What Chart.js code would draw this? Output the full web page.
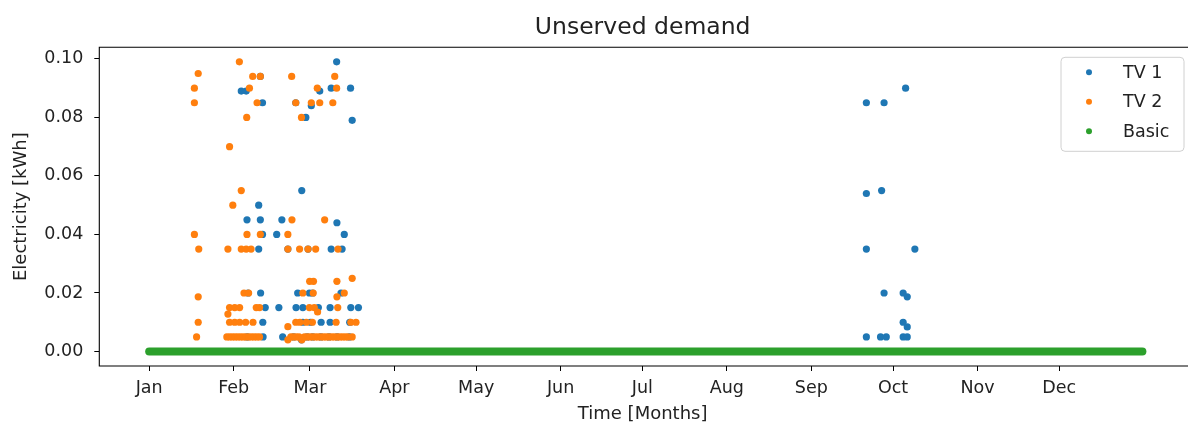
<!DOCTYPE html>
<html>
<head>
<meta charset="utf-8">
<title>Unserved demand</title>
<script src="https://cdn.jsdelivr.net/npm/chart.js@4.4.1/dist/chart.umd.min.js"></script>
<style>
  html, body { margin: 0; padding: 0; background: #fff; overflow: hidden; }
  canvas { display: block; }
</style>
</head>
<body>
<canvas id="chart" width="1190" height="428"></canvas>
<script>
// x values are days since 1 Jan (00:00), y values are kWh
const monthStarts = [0, 31, 59, 90, 120, 151, 181, 212, 243, 273, 304, 334];
const monthLabels = ['Jan', 'Feb', 'Mar', 'Apr', 'May', 'Jun', 'Jul', 'Aug', 'Sep', 'Oct', 'Nov', 'Dec'];
const yTicks = [0, 0.02, 0.04, 0.06, 0.08, 0.10];

// TV 1: one entry per demand level, with the days it shows up
const tv1Levels = [0.099, 0.094, 0.090, 0.089, 0.085, 0.084, 0.080, 0.079, 0.055, 0.054, 0.050,
  0.045, 0.044, 0.040, 0.035, 0.020, 0.0187, 0.015, 0.010, 0.0084, 0.005, 0.004];
const tv1Days = [
  [68.8],
  [40.8],
  [66.8, 73.9, 277.6],
  [33.8, 35.6, 62.6],
  [41.6, 53.8, 263.2, 269.7],
  [59.5],
  [57.5],
  [74.5],
  [56.0, 268.8],
  [263.2],
  [40.2],
  [35.9, 40.8, 48.7],
  [68.9],
  [41.6, 46.8, 71.6],
  [40.2, 50.9, 58.3, 66.8, 70.8, 263.2, 281.0],
  [36.3, 40.9, 54.5, 58.8, 60.0, 70.4, 269.7, 276.7],
  [278.2],
  [42.6, 47.6, 53.9, 56.4, 62.1, 66.4, 74.0, 76.8],
  [41.7, 56.4, 59.2, 63.1, 66.4, 73.6, 276.7],
  [278.2],
  [36.0, 41.8, 49.0, 53.0, 58.0, 60.0, 63.0, 66.0, 69.0, 73.5, 263.2, 268.4, 270.5, 276.7, 278.2],
  [55.9]
];

// TV 2
const tv2Levels = [0.099, 0.095, 0.094, 0.090, 0.085, 0.080, 0.070, 0.055, 0.050, 0.045, 0.040,
  0.035, 0.025, 0.024, 0.020, 0.0187, 0.015, 0.0135, 0.0128, 0.010, 0.0085, 0.005, 0.004];
const tv2Days = [
  [33.1],
  [18.0],
  [38.0, 40.8, 52.3, 68.1],
  [16.6, 36.8, 61.7, 68.8],
  [16.6, 39.6, 53.8, 59.5, 62.6, 67.4],
  [35.8, 55.9],
  [29.5],
  [33.8],
  [30.7],
  [52.4, 64.4],
  [16.6, 35.9, 40.8, 50.9],
  [18.2, 28.9, 33.8, 35.6, 37.4, 50.9, 55.2, 58.3, 61.1, 69.3],
  [74.5],
  [58.9, 60.3, 68.9],
  [34.8, 36.5, 56.4, 60.2, 71.6],
  [18.0, 68.9],
  [29.5, 31.4, 33.2, 39.3, 40.5, 58.8, 60.6, 69.2],
  [61.8],
  [28.9],
  [18.0, 29.5, 31.4, 33.2, 35.4, 38.1, 53.8, 55.3, 57.7, 59.9, 68.6, 74.0, 75.9],
  [50.9],
  [17.4, 28.5, 29.5, 30.5, 31.5, 32.5, 33.5, 34.5, 35.5, 36.5, 37.5, 38.5, 39.5, 40.5,
   52, 53, 54, 55, 57, 58, 59, 60, 61, 62, 63, 64, 65, 66, 67, 68, 69, 70, 71, 72, 73, 74.5],
  [50.9, 56.0]
];

// Basic never misses demand: flat at 0 for the whole year
const basicDays = [0, 364.5];
const basicKwh = [0, 0];

const COLORS = { tv1: '#1f77b4', tv2: '#ff7f0e', basic: '#2ca02c' };
const FONT = 'DejaVu Sans';
const TEXT = '#222222';

function toPoints(levels, daysByLevel) {
    return levels.flatMap((level, i) => daysByLevel[i].map(day => ({ x: day, y: level })));
}

// Axes frame; the right spine sits just past the edge of the picture
const framePlugin = {
    id: 'frame',
    afterDatasetsDraw(chart) {
        const { ctx, chartArea: a } = chart;
        ctx.save();
        ctx.strokeStyle = '#000';
        ctx.lineWidth = 1.1;
        ctx.beginPath();
        ctx.moveTo(a.right + 2, a.top);
        ctx.lineTo(a.left, a.top);
        ctx.lineTo(a.left, a.bottom);
        ctx.lineTo(a.right + 2, a.bottom);
        ctx.stroke();
        ctx.restore();
    }
};

// Matplotlib-like legend in the upper right corner of the axes
const boxLegendPlugin = {
    id: 'boxLegend',
    afterDraw(chart) {
        const { ctx, chartArea: a } = chart;
        const w = 123, h = 94;
        const left = a.right - 6 - w + 4;
        const top = a.top + 10;
        ctx.save();
        ctx.beginPath();
        ctx.roundRect(left, top, w, h, 4);
        ctx.fillStyle = 'rgba(255,255,255,0.8)';
        ctx.fill();
        ctx.strokeStyle = '#d0d0d0';
        ctx.lineWidth = 1;
        ctx.stroke();
        ctx.font = `17.5px "${FONT}"`;
        ctx.textBaseline = 'middle';
        ctx.textAlign = 'left';
        chart.data.datasets.forEach((ds, i) => {
            const y = top + 15 + i * 29.5;
            ctx.beginPath();
            ctx.arc(left + 28, y, 3, 0, Math.PI * 2);
            ctx.fillStyle = ds.legendColor;
            ctx.fill();
            ctx.fillStyle = TEXT;
            ctx.fillText(ds.label, left + 62, y + 1);
        });
        ctx.restore();
    }
};

const ctx = document.getElementById('chart').getContext('2d');
new Chart(ctx, {
    type: 'scatter',
    data: {
        datasets: [
            {
                label: 'TV 1',
                data: toPoints(tv1Levels, tv1Days),
                backgroundColor: COLORS.tv1,
                legendColor: COLORS.tv1,
                pointRadius: 3.6,
                pointBorderWidth: 0,
                order: 3
            },
            {
                label: 'TV 2',
                data: toPoints(tv2Levels, tv2Days),
                backgroundColor: COLORS.tv2,
                legendColor: COLORS.tv2,
                pointRadius: 3.6,
                pointBorderWidth: 0,
                order: 2
            },
            {
                label: 'Basic',
                data: basicDays.map((d, i) => ({ x: d, y: basicKwh[i] })),
                showLine: true,
                borderColor: COLORS.basic,
                borderWidth: 8,
                borderCapStyle: 'round',
                legendColor: COLORS.basic,
                pointRadius: 0,
                order: 1
            }
        ]
    },
    options: {
        responsive: false,
        animation: false,
        layout: { padding: 0 },
        plugins: {
            legend: { display: false },
            tooltip: { enabled: false },
            title: {
                display: true,
                fullSize: false,
                text: 'Unserved demand',
                color: TEXT,
                font: { family: FONT, size: 23.5, weight: 'normal' },
                padding: { top: 14, bottom: 5.1 }
            }
        },
        scales: {
            x: {
                type: 'linear',
                min: -18.3,
                max: 380.5,
                afterFit: (scale) => { scale.height = 62; },
                afterBuildTicks: (scale) => { scale.ticks = monthStarts.map(v => ({ value: v })); },
                ticks: {
                    color: TEXT,
                    font: { family: FONT, size: 17.5 },
                    padding: 7,
                    autoSkip: false,
                    maxRotation: 0,
                    callback: (value) => monthLabels[monthStarts.indexOf(value)]
                },
                grid: { drawOnChartArea: false, drawTicks: true, tickLength: 5, tickColor: '#000', tickWidth: 1 },
                border: { display: false },
                title: {
                    display: true,
                    text: 'Time [Months]',
                    color: TEXT,
                    font: { family: FONT, size: 18 },
                    padding: { top: 0, bottom: 3 }
                }
            },
            y: {
                min: -0.00495,
                max: 0.10395,
                afterFit: (scale) => { scale.width = 99.3; },
                afterBuildTicks: (scale) => { scale.ticks = yTicks.map(v => ({ value: v })); },
                ticks: {
                    color: TEXT,
                    font: { family: FONT, size: 17.5 },
                    padding: 11,
                    callback: (value) => value.toFixed(2)
                },
                grid: { drawOnChartArea: false, drawTicks: true, tickLength: 5, tickColor: '#000', tickWidth: 1 },
                border: { display: false },
                title: {
                    display: true,
                    text: 'Electricity [kWh]',
                    color: TEXT,
                    font: { family: FONT, size: 18 },
                    padding: { top: 11, bottom: 0 }
                }
            }
        }
    },
    plugins: [framePlugin, boxLegendPlugin]
});
</script>
</body>
</html>
